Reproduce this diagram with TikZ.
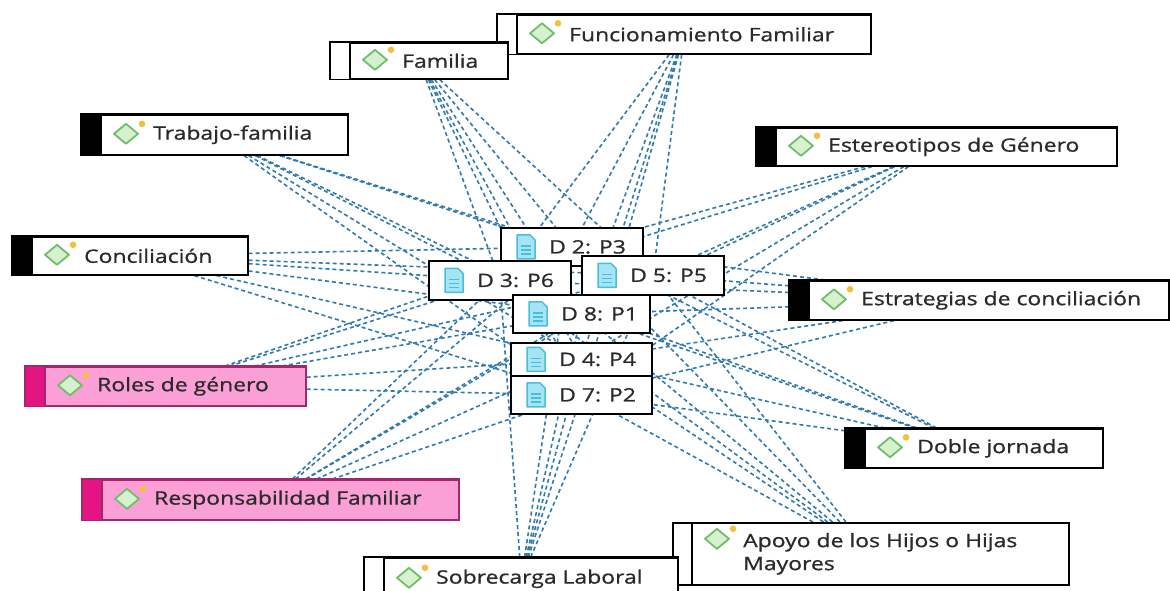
\documentclass[tikz,border=0pt]{standalone}
\usepackage{fontspec}
\setmainfont{Open Sans}[FakeStretch=1.24, FakeBold=0.9]
\usetikzlibrary{calc}
\pgfdeclarelayer{background}
\pgfsetlayers{background,main}
\definecolor{linkblue}{RGB}{48,122,172}
\definecolor{pinkfill}{RGB}{250,160,215}
\definecolor{pinkstrip}{RGB}{228,20,130}
\definecolor{pinkedge}{RGB}{160,40,110}
\definecolor{textgray}{RGB}{42,42,42}
\definecolor{icongreen}{RGB}{110,190,110}
\definecolor{iconfill}{RGB}{215,240,205}
\definecolor{dotyellow}{RGB}{245,190,60}
\definecolor{docfill}{RGB}{165,228,242}
\definecolor{docedge}{RGB}{70,190,220}
\colorlet{codeboxcol}{black}
\colorlet{pinkboxcol}{pinkedge}
\newcommand\lblfont{\fontsize{18.5}{23}\selectfont}
\tikzset{
  codebox/.style={draw=black, line width=1.6pt, fill=white, rectangle, anchor=north west, inner sep=0pt},
  pinkbox/.style={codebox, draw=pinkedge, fill=pinkfill},
  docbox/.style={draw=black, line width=1.8pt, fill=white, rectangle, anchor=north west, inner sep=0pt},
  lbl/.style={anchor=west, text=textgray, inner sep=0pt, font=\lblfont, align=left},
  link/.style={draw=linkblue, dash pattern=on 4pt off 3pt, line width=1.6pt},
  codeicon/.pic={
    \draw[icongreen, fill=iconfill, line width=1.8pt, line join=round] (-12,0) -- (0,-10) -- (12,0) -- (0,10) -- cycle;
    \fill[dotyellow] (16,-10) circle (3.3);
  },
  docicon/.pic={
    \draw[docedge, fill=docfill, line width=1.5pt, line join=round] (-9,-12) -- (4,-12) -- (9,-7) -- (9,12) -- (-9,12) -- cycle;
    \draw[docedge, line width=1.2pt] (-5,-1) -- (5,-1) (-5,3) -- (5,3) (-5,7) -- (5,7);
  }
}
% name, x, y, w, h, box style, strip fill, text
\newcommand\codenode[8]{%
  \node[#6, minimum width=#4pt, minimum height=#5pt] (#1) at (#2,#3) {};
  \fill[#7] (#1.north west) rectangle ([xshift=21pt]#1.south west);
  \draw[line width=1.6pt, draw=#6col] (#1.north west) rectangle (#1.south east);
  \draw[line width=1.6pt, draw=#6col] ([xshift=20pt]#1.north west) -- ([xshift=20pt]#1.south west);
  \pic at ([xshift=45pt,yshift=1pt]#1.west) {codeicon};
  \node[lbl] (#1t) at ([xshift=72pt]#1.west) {#8};
}
\newcommand\docnode[6]{%
  \node[docbox, minimum width=#4pt, minimum height=#5pt] (#1) at (#2,#3) {};
  \pic at ([xshift=26pt]#1.west) {docicon};
  \node[lbl] (#1t) at ([xshift=49pt]#1.west) {#6};
}
\begin{document}
\begin{tikzpicture}[x=1pt,y=-1pt]
\useasboundingbox (0,0) rectangle (1170,590);
% code nodes
\codenode{fun}{497}{14}{373}{39}{codebox}{white}{Funcionamiento Familiar}
\codenode{fam}{330}{42}{177}{36}{codebox}{white}{Familia}
\codenode{tra}{81}{114}{266}{40}{codebox}{black}{Trabajo-familia}
\codenode{est}{756}{127}{360}{38}{codebox}{black}{Estereotipos de Género}
\codenode{con}{12}{236}{235}{38}{codebox}{black}{Conciliación}
\codenode{estr}{789}{280}{379}{39}{codebox}{black}{Estrategias de conciliación}
\codenode{rol}{25}{366}{280}{39}{pinkbox}{pinkstrip}{Roles de género}
\codenode{res}{82}{479}{376}{40}{pinkbox}{pinkstrip}{Responsabilidad Familiar}
\codenode{dob}{845}{428}{257}{39}{codebox}{black}{Doble jornada}
\node[codebox, minimum width=396pt, minimum height=62pt] (apo) at (672,522) {};
\draw[line width=1.6pt] ([xshift=20pt]apo.north west) -- ([xshift=20pt]apo.south west);
\pic at ([xshift=45pt,yshift=15pt]apo.west) {codeicon};
\node[lbl] (apot) at ([xshift=71pt]apo.west) {Apoyo de los Hijos o Hijas\\Mayores};
\codenode{sob}{364}{557}{313}{42}{codebox}{white}{Sobrecarga Laboral}
% document nodes
\docnode{d2}{500}{227}{142}{38}{D 2: P3}
\docnode{d3}{428}{260}{142}{39}{D 3: P6}
\docnode{d5}{581}{255}{142}{39}{D 5: P5}
\docnode{d8}{512}{294}{137}{38}{D 8: P1}
\docnode{d4}{510}{342}{141}{33}{D 4: P4}
\docnode{d7}{510}{375}{141}{38}{D 7: P2}
% background and links
\begin{pgfonlayer}{background}
\fill[white] (0,0) rectangle (1170,590);
\foreach \c in {fam,fun,tra,est,con,estr,rol,res,dob,apo,sob}{
  \foreach \d in {d2,d3,d5,d8,d4,d7}{
    \draw[link] (\c) -- (\d);
  }
}
\end{pgfonlayer}
\end{tikzpicture}
\end{document}
